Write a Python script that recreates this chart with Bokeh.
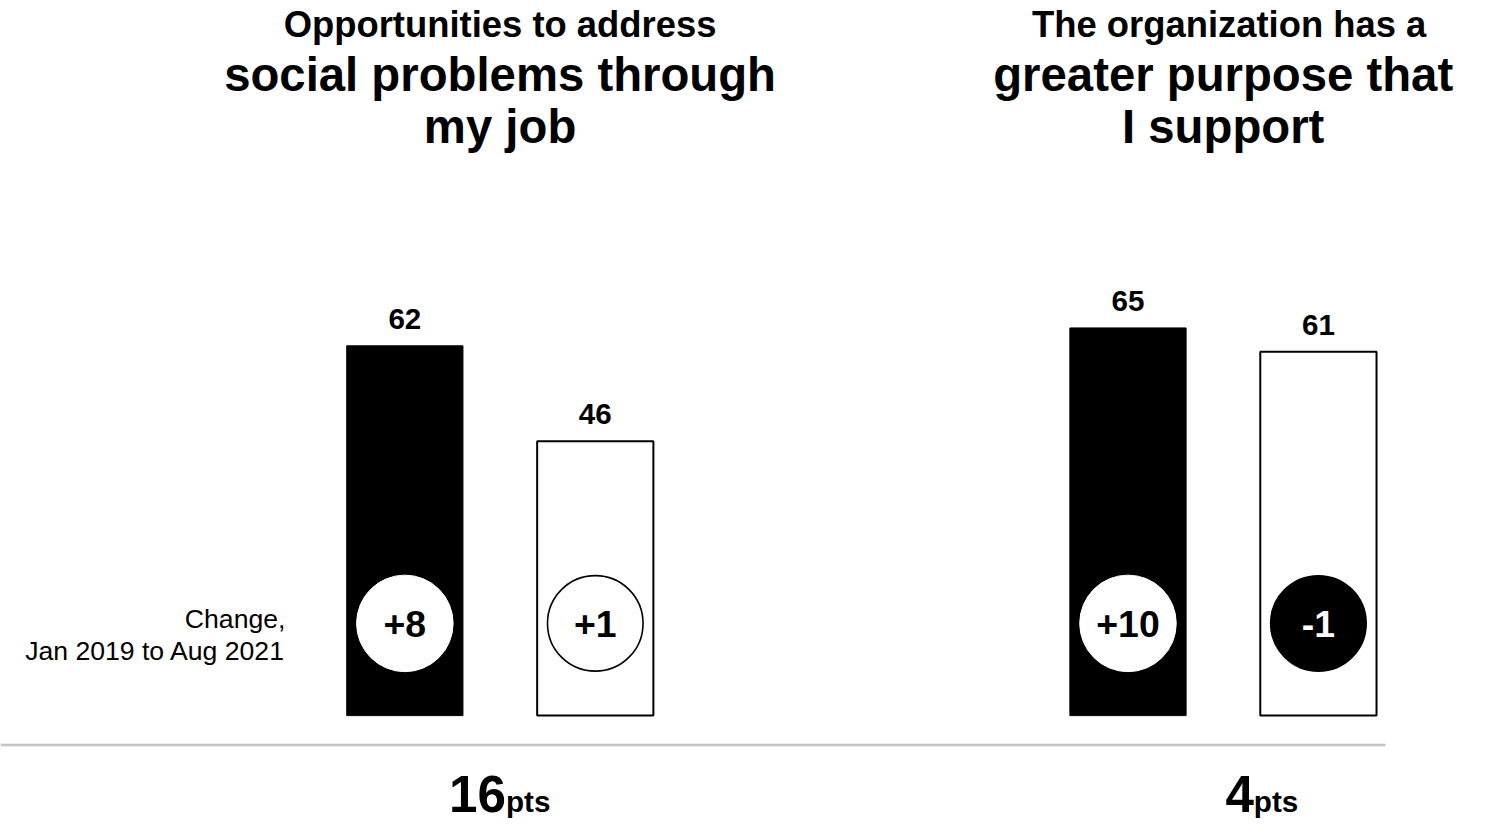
from bokeh.plotting import figure
from bokeh.models import Range1d
from bokeh.core.properties import value
from bokeh.embed import file_html
from bokeh.resources import INLINE

# ---------------- data ----------------
title_top = ["Opportunities to address", "The organization has a"]
title_main = [["social problems through", "my job"],
              ["greater purpose that", "I support"]]
series_black = [62, 65]          # filled bars
series_white = [46, 61]          # outlined bars
change_black = ["+8", "+10"]
change_white = ["+1", "-1"]
gap_value = ["16", "4"]
gap_unit = "pts"
change_note = ["Change,", "Jan 2019 to Aug 2021"]

# ---------------- layout ----------------
W, H = 1470, 823            # figure size in screen px
RW, RH = 1486, 839          # design canvas (layout units)
FS = 0.985                  # design px -> screen px for fonts / markers
PX_PER_UNIT = 6.08          # design px per value unit
BASE_Y = 729                # design y of value 0
K = 0.35                    # baseline correction (em)


def py(design_y):
    return (BASE_Y - design_y) / PX_PER_UNIT


def ty(baseline_y, fs):
    return py(baseline_y - K * fs)


def fpx(fs):
    return "%.1fpx" % (fs * FS)


group_centers = [505, 1236]
title_top_x = [505, 1242]
pair_half = 96.25
bar_w = 117.5
FONT = value("Liberation Sans")

p = figure(width=W, height=H, x_range=Range1d(0, RW),
           y_range=Range1d(py(RH), py(0)),
           output_backend="svg", toolbar_location=None, min_border=0)
p.axis.visible = False
p.grid.visible = False
p.outline_line_color = None
p.background_fill_color = "white"
p.border_fill_color = "white"

xa = [g - pair_half for g in group_centers]
xb = [g + pair_half for g in group_centers]

# bars
p.vbar(x=xa, top=series_black, bottom=0, width=bar_w,
       fill_color="black", line_color="black", line_width=1)
p.vbar(x=xb, top=series_white, bottom=0, width=bar_w,
       fill_color="white", line_color="black", line_width=2)

# value labels
LBL = 30
for xs, vals in ((xa, series_black), (xb, series_white)):
    p.text(x=xs, y=[v + (17 + K * LBL) / PX_PER_UNIT for v in vals],
           text=[str(v) for v in vals], text_align="center",
           text_baseline="alphabetic", text_font=FONT,
           text_font_style="bold", text_font_size=fpx(LBL), text_color="black")

# change circles
CY = py(635)
CFS = 38
p.scatter(x=xa, y=[CY] * len(xa), marker="circle", size=98 * FS,
          fill_color="white", line_color="white")
p.text(x=xa, y=[ty(649, CFS)] * len(xa), text=change_black, text_align="center",
       text_baseline="alphabetic", text_font=FONT,
       text_font_style="bold", text_font_size=fpx(CFS), text_color="black")

neg = [c.startswith("-") for c in change_white]
p.scatter(x=xb, y=[CY] * len(xb), marker="circle", size=97 * FS,
          fill_color=["black" if n else "white" for n in neg],
          line_color="black", line_width=1.6)
p.text(x=xb, y=[ty(649, CFS)] * len(xb), text=change_white, text_align="center",
       text_baseline="alphabetic", text_font=FONT,
       text_font_style="bold", text_font_size=fpx(CFS),
       text_color=["white" if n else "black" for n in neg])

# change note
NFS = 27
p.text(x=[288, 288], y=[ty(640, NFS), ty(673, NFS)], text=change_note,
       text_align="right", text_baseline="alphabetic", text_font=FONT,
       text_font_size=fpx(NFS), text_color="black")

# titles
T1 = 37
p.text(x=title_top_x, y=[ty(37, T1)] * 2, text=title_top, text_align="center",
       text_baseline="alphabetic", text_font=FONT, text_font_style="bold",
       text_font_size=fpx(T1), text_color="black")
T2 = 48
for i, ybase in enumerate([92, 145]):
    p.text(x=group_centers, y=[ty(ybase, T2)] * 2,
           text=[t[i] for t in title_main], text_align="center",
           text_baseline="alphabetic", text_font=FONT,
           text_font_style="bold", text_font_size=fpx(T2), text_color="black")

# separator line
p.segment(x0=[0], y0=[py(759)], x1=[1400], y1=[py(759)],
          line_color="#c4c4c4", line_width=2.5)

# gap labels
G1, G2 = 52, 30
split_offset = [6, 31]
xs_split = [g + o for g, o in zip(group_centers, split_offset)]
p.text(x=xs_split, y=[ty(827, G1)] * 2, text=gap_value, text_align="right",
       text_baseline="alphabetic", text_font=FONT, text_font_style="bold",
       text_font_size=fpx(G1), text_color="black")
p.text(x=xs_split, y=[ty(827, G2)] * 2, text=[gap_unit] * 2, text_align="left",
       text_baseline="alphabetic", text_font=FONT, text_font_style="bold",
       text_font_size=fpx(G2), text_color="black")

open("out.html", "w").write(file_html(p, INLINE))
